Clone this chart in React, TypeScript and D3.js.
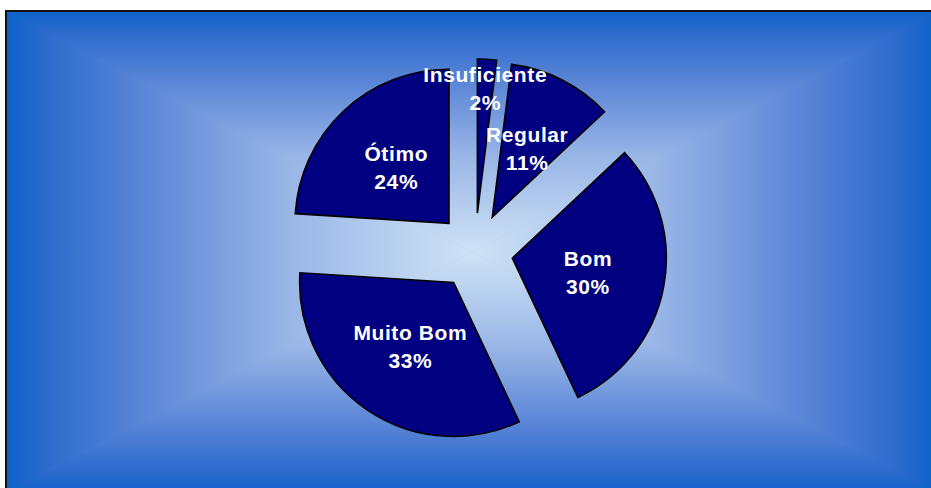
import React from "react";
import * as d3 from "d3";

const categories = ["Insuficiente", "Regular", "Bom", "Muito Bom", "Ótimo"];
const values = [2, 11, 30, 33, 24];
const labels = ["2%", "11%", "30%", "33%", "24%"];

const W = 931;
const H = 488;

export default function App() {
  const rect = { x: 6, y: 11, w: 932, h: 482 };
  const gcx = rect.x + rect.w / 2;
  const gcy = rect.y + rect.h / 2;
  const cx = 475;
  const cy = 251;
  const r = 154;
  const explode = 38;

  const pie = d3
    .pie<number>()
    .sort(null)
    .value((d) => d)
    .startAngle(0)
    .endAngle(2 * Math.PI);
  const arcs = pie(values);
  const arc = d3.arc<d3.PieArcDatum<number>>().innerRadius(0).outerRadius(r);

  const stops = [
    [0, "#0c62c8"],
    [0.08, "#2a6acd"],
    [0.3, "#5c86d7"],
    [0.6, "#98b5e6"],
    [1, "#cfe2f5"],
  ];

  const x0 = rect.x, y0 = rect.y, x1 = rect.x + rect.w, y1 = rect.y + rect.h;
  const tris = [
    { id: "gt", pts: `${x0},${y0} ${x1},${y0} ${gcx},${gcy}`, g: [gcx, y0, gcx, gcy] },
    { id: "gb", pts: `${x0},${y1} ${x1},${y1} ${gcx},${gcy}`, g: [gcx, y1, gcx, gcy] },
    { id: "gl", pts: `${x0},${y0} ${x0},${y1} ${gcx},${gcy}`, g: [x0, gcy, gcx, gcy] },
    { id: "gr", pts: `${x1},${y0} ${x1},${y1} ${gcx},${gcy}`, g: [x1, gcy, gcx, gcy] },
  ];

  return (
    <svg
      width={W}
      height={H}
      style={{ position: "absolute", left: 0, top: 0, display: "block" }}
    >
      <defs>
        {tris.map((t) => (
          <linearGradient
            key={t.id}
            id={t.id}
            gradientUnits="userSpaceOnUse"
            x1={t.g[0]}
            y1={t.g[1]}
            x2={t.g[2]}
            y2={t.g[3]}
          >
            {stops.map((s, i) => (
              <stop key={i} offset={s[0] as number} stopColor={s[1] as string} />
            ))}
          </linearGradient>
        ))}
      </defs>
      <rect x={0} y={0} width={W} height={H} fill="#ffffff" />
      <rect x={x0} y={y0} width={rect.w} height={rect.h} fill="#5c86d7" />
      {tris.map((t) => (
        <polygon
          key={t.id}
          points={t.pts}
          fill={`url(#${t.id})`}
          stroke={`url(#${t.id})`}
          strokeWidth={0.6}
        />
      ))}
      <rect
        x={x0}
        y={y0}
        width={rect.w}
        height={rect.h}
        fill="none"
        stroke="#111"
        strokeWidth={2}
      />
      {arcs.map((a, i) => {
        const mid = (a.startAngle + a.endAngle) / 2;
        const dx = Math.sin(mid) * explode;
        const dy = -Math.cos(mid) * explode;
        return (
          <g key={categories[i]} transform={`translate(${cx + dx},${cy + dy})`}>
            <path d={arc(a) || ""} fill="#000080" stroke="#000" strokeWidth={1.6} strokeLinejoin="miter" />
          </g>
        );
      })}
      {arcs.map((a, i) => {
        const mid = (a.startAngle + a.endAngle) / 2;
        const dx = Math.sin(mid) * explode;
        const dy = -Math.cos(mid) * explode;
        const frac = a.endAngle - a.startAngle < 0.2 ? 0.81 : 0.5;
        const lx = cx + dx + Math.sin(mid) * r * frac;
        const ly = cy + dy - Math.cos(mid) * r * frac;
        return (
          <g
            key={"l" + categories[i]}
            fontFamily="'Liberation Sans', Arial, sans-serif"
            fontWeight="bold"
            fontSize={21}
            fill="#ffffff"
            textAnchor="middle"
            letterSpacing={0.6}
          >
            <text x={lx} y={ly - 14} dominantBaseline="central">
              {categories[i]}
            </text>
            <text x={lx} y={ly + 14} dominantBaseline="central">
              {labels[i]}
            </text>
          </g>
        );
      })}
    </svg>
  );
}
